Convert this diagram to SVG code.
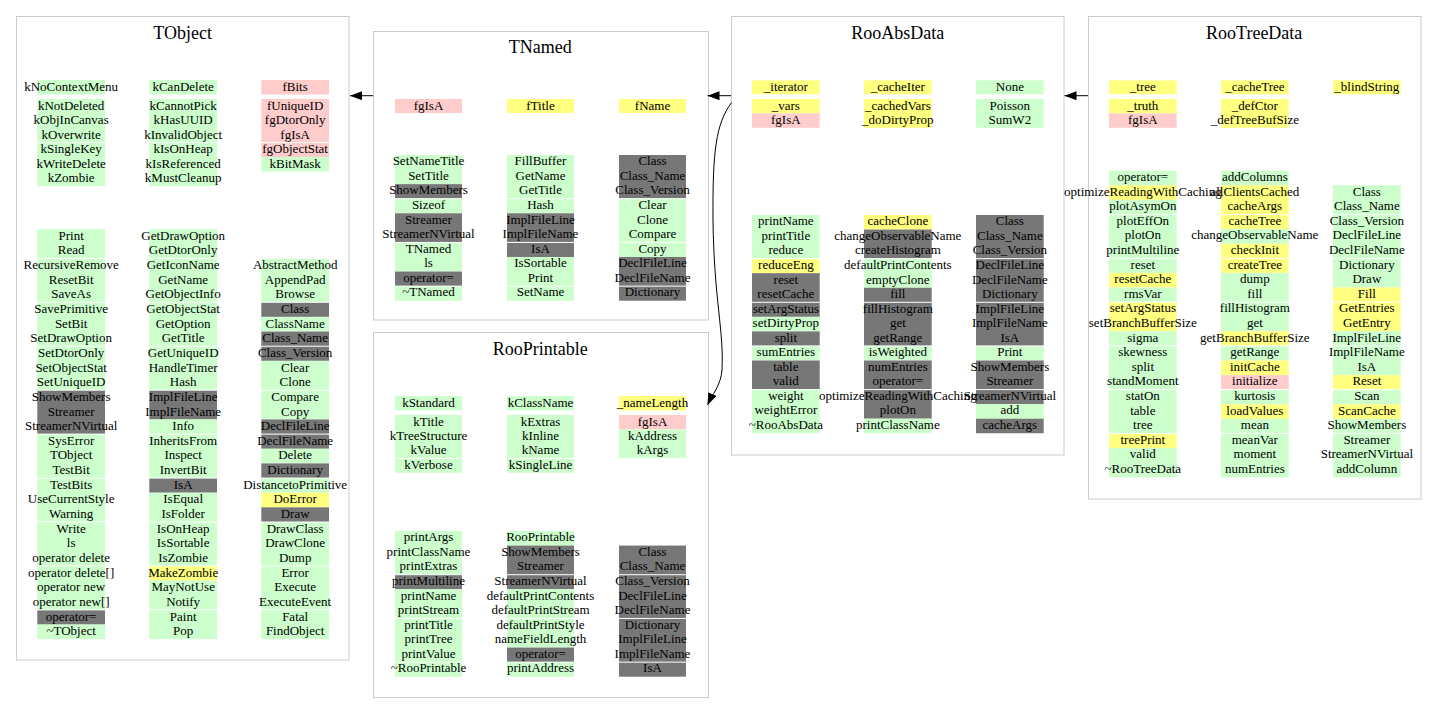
<svg xmlns="http://www.w3.org/2000/svg" width="1437" height="724" viewBox="0 0 1437 724">
<style>
.box{fill:#fff;stroke:#cccccc;stroke-width:1}
.t{font-family:"Liberation Serif","Times New Roman",serif;font-size:13px;text-anchor:middle;fill:#000}
.h{font-family:"Liberation Serif","Times New Roman",serif;font-size:18px;text-anchor:middle;fill:#000}
.g{fill:#ccffcc}.y{fill:#ffff80}.p{fill:#ffcccc}.d{fill:#777777}.w{fill:#ffffff}
.c{fill:none;stroke:#000;stroke-width:1}
</style>
<defs>
<marker id="arr" markerUnits="userSpaceOnUse" markerWidth="14" markerHeight="10" refX="12" refY="4.5" orient="auto">
<path d="M0,0 L12,4.5 L0,9 z" fill="#000"/>
</marker>
</defs>
<rect width="1437" height="724" fill="#fff"/>

<g id="TObject">
<rect class="box" x="16.5" y="16.5" width="332.5" height="643.5"/>
<text class="h" x="182.7" y="39.3">TObject</text>
<rect class="g" x="37.3" y="80" width="67.7" height="14.5"/>
<rect class="g" x="149.3" y="80" width="67.7" height="14.5"/>
<rect class="p" x="261.3" y="80" width="67.7" height="14.5"/>
<rect class="g" x="37.3" y="99" width="67.7" height="87"/>
<rect class="g" x="149.3" y="99" width="67.7" height="87"/>
<rect class="p" x="261.3" y="99" width="67.7" height="58"/>
<rect class="g" x="261.3" y="157" width="67.7" height="14.5"/>
<rect class="w" x="37" y="142" width="293" height="1"/>
<text class="t"><tspan x="71.15" y="91">kNoContextMenu</tspan><tspan x="183.15" y="91">kCanDelete</tspan><tspan x="295.15" y="91">fBits</tspan></text>
<text class="t" x="71.15" y="109.5"><tspan x="71.15" dy="0">kNotDeleted</tspan><tspan x="71.15" dy="14.5">kObjInCanvas</tspan><tspan x="71.15" dy="14.5">kOverwrite</tspan><tspan x="71.15" dy="14.5">kSingleKey</tspan><tspan x="71.15" dy="14.5">kWriteDelete</tspan><tspan x="71.15" dy="14.5">kZombie</tspan></text>
<text class="t" x="183.15" y="109.5"><tspan x="183.15" dy="0">kCannotPick</tspan><tspan x="183.15" dy="14.5">kHasUUID</tspan><tspan x="183.15" dy="14.5">kInvalidObject</tspan><tspan x="183.15" dy="14.5">kIsOnHeap</tspan><tspan x="183.15" dy="14.5">kIsReferenced</tspan><tspan x="183.15" dy="14.5">kMustCleanup</tspan></text>
<text class="t" x="295.15" y="109.5"><tspan x="295.15" dy="0">fUniqueID</tspan><tspan x="295.15" dy="14.5">fgDtorOnly</tspan><tspan x="295.15" dy="14.5">fgIsA</tspan><tspan x="295.15" dy="14.5">fgObjectStat</tspan><tspan x="295.15" dy="14.5">kBitMask</tspan></text>
<rect class="g" x="37.3" y="229" width="67.7" height="161.15"/>
<rect class="d" x="37.3" y="390.15" width="67.7" height="43.95"/>
<rect class="g" x="37.3" y="434.1" width="67.7" height="175.8"/>
<rect class="d" x="37.3" y="609.9" width="67.7" height="14.65"/>
<rect class="g" x="37.3" y="624.55" width="67.7" height="14.65"/>
<rect class="g" x="149.3" y="229" width="67.7" height="161.15"/>
<rect class="d" x="149.3" y="390.15" width="67.7" height="29.3"/>
<rect class="g" x="149.3" y="419.45" width="67.7" height="58.6"/>
<rect class="d" x="149.3" y="478.05" width="67.7" height="14.65"/>
<rect class="g" x="149.3" y="492.7" width="67.7" height="73.25"/>
<rect class="y" x="149.3" y="565.95" width="67.7" height="14.65"/>
<rect class="g" x="149.3" y="580.6" width="67.7" height="58.6"/>
<rect class="g" x="261.3" y="258.3" width="67.7" height="43.95"/>
<rect class="d" x="261.3" y="302.25" width="67.7" height="14.65"/>
<rect class="g" x="261.3" y="316.9" width="67.7" height="14.65"/>
<rect class="d" x="261.3" y="331.55" width="67.7" height="29.3"/>
<rect class="g" x="261.3" y="360.85" width="67.7" height="58.6"/>
<rect class="d" x="261.3" y="419.45" width="67.7" height="29.3"/>
<rect class="g" x="261.3" y="448.75" width="67.7" height="14.65"/>
<rect class="d" x="261.3" y="463.4" width="67.7" height="14.65"/>
<rect class="g" x="261.3" y="478.05" width="67.7" height="14.65"/>
<rect class="y" x="261.3" y="492.7" width="67.7" height="14.65"/>
<rect class="d" x="261.3" y="507.35" width="67.7" height="14.65"/>
<rect class="g" x="261.3" y="522" width="67.7" height="117.2"/>
<rect class="w" x="37" y="257.8" width="293" height="1"/>
<rect class="w" x="37" y="301.75" width="293" height="1"/>
<rect class="w" x="37" y="345.7" width="293" height="1"/>
<rect class="w" x="37" y="389.65" width="293" height="1"/>
<rect class="w" x="37" y="433.6" width="293" height="1"/>
<rect class="w" x="37" y="477.55" width="293" height="1"/>
<rect class="w" x="37" y="521.5" width="293" height="1"/>
<rect class="w" x="37" y="565.45" width="293" height="1"/>
<rect class="w" x="37" y="609.4" width="293" height="1"/>
<text class="t" x="71.15" y="239.7"><tspan x="71.15" dy="0">Print</tspan><tspan x="71.15" dy="14.65">Read</tspan><tspan x="71.15" dy="14.65">RecursiveRemove</tspan><tspan x="71.15" dy="14.65">ResetBit</tspan><tspan x="71.15" dy="14.65">SaveAs</tspan><tspan x="71.15" dy="14.65">SavePrimitive</tspan><tspan x="71.15" dy="14.65">SetBit</tspan><tspan x="71.15" dy="14.65">SetDrawOption</tspan><tspan x="71.15" dy="14.65">SetDtorOnly</tspan><tspan x="71.15" dy="14.65">SetObjectStat</tspan><tspan x="71.15" dy="14.65">SetUniqueID</tspan><tspan x="71.15" dy="14.65">ShowMembers</tspan><tspan x="71.15" dy="14.65">Streamer</tspan><tspan x="71.15" dy="14.65">StreamerNVirtual</tspan><tspan x="71.15" dy="14.65">SysError</tspan><tspan x="71.15" dy="14.65">TObject</tspan><tspan x="71.15" dy="14.65">TestBit</tspan><tspan x="71.15" dy="14.65">TestBits</tspan><tspan x="71.15" dy="14.65">UseCurrentStyle</tspan><tspan x="71.15" dy="14.65">Warning</tspan><tspan x="71.15" dy="14.65">Write</tspan><tspan x="71.15" dy="14.65">ls</tspan><tspan x="71.15" dy="14.65">operator delete</tspan><tspan x="71.15" dy="14.65">operator delete[]</tspan><tspan x="71.15" dy="14.65">operator new</tspan><tspan x="71.15" dy="14.65">operator new[]</tspan><tspan x="71.15" dy="14.65">operator=</tspan><tspan x="71.15" dy="14.65">~TObject</tspan></text>
<text class="t" x="183.15" y="239.7"><tspan x="183.15" dy="0">GetDrawOption</tspan><tspan x="183.15" dy="14.65">GetDtorOnly</tspan><tspan x="183.15" dy="14.65">GetIconName</tspan><tspan x="183.15" dy="14.65">GetName</tspan><tspan x="183.15" dy="14.65">GetObjectInfo</tspan><tspan x="183.15" dy="14.65">GetObjectStat</tspan><tspan x="183.15" dy="14.65">GetOption</tspan><tspan x="183.15" dy="14.65">GetTitle</tspan><tspan x="183.15" dy="14.65">GetUniqueID</tspan><tspan x="183.15" dy="14.65">HandleTimer</tspan><tspan x="183.15" dy="14.65">Hash</tspan><tspan x="183.15" dy="14.65">ImplFileLine</tspan><tspan x="183.15" dy="14.65">ImplFileName</tspan><tspan x="183.15" dy="14.65">Info</tspan><tspan x="183.15" dy="14.65">InheritsFrom</tspan><tspan x="183.15" dy="14.65">Inspect</tspan><tspan x="183.15" dy="14.65">InvertBit</tspan><tspan x="183.15" dy="14.65">IsA</tspan><tspan x="183.15" dy="14.65">IsEqual</tspan><tspan x="183.15" dy="14.65">IsFolder</tspan><tspan x="183.15" dy="14.65">IsOnHeap</tspan><tspan x="183.15" dy="14.65">IsSortable</tspan><tspan x="183.15" dy="14.65">IsZombie</tspan><tspan x="183.15" dy="14.65">MakeZombie</tspan><tspan x="183.15" dy="14.65">MayNotUse</tspan><tspan x="183.15" dy="14.65">Notify</tspan><tspan x="183.15" dy="14.65">Paint</tspan><tspan x="183.15" dy="14.65">Pop</tspan></text>
<text class="t" x="295.15" y="269"><tspan x="295.15" dy="0">AbstractMethod</tspan><tspan x="295.15" dy="14.65">AppendPad</tspan><tspan x="295.15" dy="14.65">Browse</tspan><tspan x="295.15" dy="14.65">Class</tspan><tspan x="295.15" dy="14.65">ClassName</tspan><tspan x="295.15" dy="14.65">Class_Name</tspan><tspan x="295.15" dy="14.65">Class_Version</tspan><tspan x="295.15" dy="14.65">Clear</tspan><tspan x="295.15" dy="14.65">Clone</tspan><tspan x="295.15" dy="14.65">Compare</tspan><tspan x="295.15" dy="14.65">Copy</tspan><tspan x="295.15" dy="14.65">DeclFileLine</tspan><tspan x="295.15" dy="14.65">DeclFileName</tspan><tspan x="295.15" dy="14.65">Delete</tspan><tspan x="295.15" dy="14.65">Dictionary</tspan><tspan x="295.15" dy="14.65">DistancetoPrimitive</tspan><tspan x="295.15" dy="14.65">DoError</tspan><tspan x="295.15" dy="14.65">Draw</tspan><tspan x="295.15" dy="14.65">DrawClass</tspan><tspan x="295.15" dy="14.65">DrawClone</tspan><tspan x="295.15" dy="14.65">Dump</tspan><tspan x="295.15" dy="14.65">Error</tspan><tspan x="295.15" dy="14.65">Execute</tspan><tspan x="295.15" dy="14.65">ExecuteEvent</tspan><tspan x="295.15" dy="14.65">Fatal</tspan><tspan x="295.15" dy="14.65">FindObject</tspan></text>
</g>

<g id="TNamed">
<rect class="box" x="373.5" y="31.5" width="335" height="288.5"/>
<text class="h" x="540.3" y="52.7">TNamed</text>
<rect class="p" x="395" y="99" width="67" height="14"/>
<rect class="y" x="507" y="99" width="67" height="14"/>
<rect class="y" x="619" y="99" width="67" height="14"/>
<text class="t"><tspan x="428.5" y="109.7">fgIsA</tspan><tspan x="540.5" y="109.7">fTitle</tspan><tspan x="652.5" y="109.7">fName</tspan></text>
<rect class="g" x="395" y="155" width="67" height="29.14"/>
<rect class="d" x="395" y="184.14" width="67" height="14.57"/>
<rect class="g" x="395" y="198.71" width="67" height="14.57"/>
<rect class="d" x="395" y="213.28" width="67" height="29.14"/>
<rect class="g" x="395" y="242.42" width="67" height="29.14"/>
<rect class="d" x="395" y="271.56" width="67" height="14.57"/>
<rect class="g" x="395" y="286.13" width="67" height="14.57"/>
<rect class="g" x="507" y="155" width="67" height="58.28"/>
<rect class="d" x="507" y="213.28" width="67" height="43.71"/>
<rect class="g" x="507" y="256.99" width="67" height="43.71"/>
<rect class="d" x="619" y="155" width="67" height="43.71"/>
<rect class="g" x="619" y="198.71" width="67" height="58.28"/>
<rect class="d" x="619" y="256.99" width="67" height="43.71"/>
<rect class="w" x="394" y="198.21" width="293" height="1"/>
<rect class="w" x="394" y="241.92" width="293" height="1"/>
<rect class="w" x="394" y="285.63" width="293" height="1"/>
<text class="t" x="428.5" y="165.3"><tspan x="428.5" dy="0">SetNameTitle</tspan><tspan x="428.5" dy="14.57">SetTitle</tspan><tspan x="428.5" dy="14.57">ShowMembers</tspan><tspan x="428.5" dy="14.57">Sizeof</tspan><tspan x="428.5" dy="14.57">Streamer</tspan><tspan x="428.5" dy="14.57">StreamerNVirtual</tspan><tspan x="428.5" dy="14.57">TNamed</tspan><tspan x="428.5" dy="14.57">ls</tspan><tspan x="428.5" dy="14.57">operator=</tspan><tspan x="428.5" dy="14.57">~TNamed</tspan></text>
<text class="t" x="540.5" y="165.3"><tspan x="540.5" dy="0">FillBuffer</tspan><tspan x="540.5" dy="14.57">GetName</tspan><tspan x="540.5" dy="14.57">GetTitle</tspan><tspan x="540.5" dy="14.57">Hash</tspan><tspan x="540.5" dy="14.57">ImplFileLine</tspan><tspan x="540.5" dy="14.57">ImplFileName</tspan><tspan x="540.5" dy="14.57">IsA</tspan><tspan x="540.5" dy="14.57">IsSortable</tspan><tspan x="540.5" dy="14.57">Print</tspan><tspan x="540.5" dy="14.57">SetName</tspan></text>
<text class="t" x="652.5" y="165.3"><tspan x="652.5" dy="0">Class</tspan><tspan x="652.5" dy="14.57">Class_Name</tspan><tspan x="652.5" dy="14.57">Class_Version</tspan><tspan x="652.5" dy="14.57">Clear</tspan><tspan x="652.5" dy="14.57">Clone</tspan><tspan x="652.5" dy="14.57">Compare</tspan><tspan x="652.5" dy="14.57">Copy</tspan><tspan x="652.5" dy="14.57">DeclFileLine</tspan><tspan x="652.5" dy="14.57">DeclFileName</tspan><tspan x="652.5" dy="14.57">Dictionary</tspan></text>
</g>

<g id="RooPrintable">
<rect class="box" x="373.5" y="332.5" width="335" height="365"/>
<text class="h" x="540.3" y="355">RooPrintable</text>
<rect class="g" x="395" y="396" width="67" height="14.5"/>
<rect class="g" x="507" y="396" width="67" height="14.5"/>
<rect class="y" x="619" y="396" width="67" height="14.5"/>
<text class="t"><tspan x="428.5" y="407">kStandard</tspan><tspan x="540.5" y="407">kClassName</tspan><tspan x="652.5" y="407">_nameLength</tspan></text>
<rect class="g" x="395" y="415" width="67" height="57.8"/>
<rect class="g" x="507" y="415" width="67" height="57.8"/>
<rect class="p" x="619" y="415" width="67" height="14.45"/>
<rect class="g" x="619" y="429.45" width="67" height="28.9"/>
<rect class="w" x="394" y="457.85" width="293" height="1"/>
<text class="t" x="428.5" y="425.5"><tspan x="428.5" dy="0">kTitle</tspan><tspan x="428.5" dy="14.45">kTreeStructure</tspan><tspan x="428.5" dy="14.45">kValue</tspan><tspan x="428.5" dy="14.45">kVerbose</tspan></text>
<text class="t" x="540.5" y="425.5"><tspan x="540.5" dy="0">kExtras</tspan><tspan x="540.5" dy="14.45">kInline</tspan><tspan x="540.5" dy="14.45">kName</tspan><tspan x="540.5" dy="14.45">kSingleLine</tspan></text>
<text class="t" x="652.5" y="425.5"><tspan x="652.5" dy="0">fgIsA</tspan><tspan x="652.5" dy="14.45">kAddress</tspan><tspan x="652.5" dy="14.45">kArgs</tspan></text>
<rect class="g" x="395" y="531" width="67" height="43.71"/>
<rect class="d" x="395" y="574.71" width="67" height="14.57"/>
<rect class="g" x="395" y="589.28" width="67" height="87.42"/>
<rect class="g" x="507" y="531" width="67" height="14.57"/>
<rect class="d" x="507" y="545.57" width="67" height="43.71"/>
<rect class="g" x="507" y="589.28" width="67" height="58.28"/>
<rect class="d" x="507" y="647.56" width="67" height="14.57"/>
<rect class="g" x="507" y="662.13" width="67" height="14.57"/>
<rect class="d" x="619" y="545.57" width="67" height="131.13"/>
<rect class="w" x="394" y="574.21" width="293" height="1"/>
<rect class="w" x="394" y="617.92" width="293" height="1"/>
<rect class="w" x="394" y="661.63" width="293" height="1"/>
<text class="t" x="428.5" y="541.3"><tspan x="428.5" dy="0">printArgs</tspan><tspan x="428.5" dy="14.57">printClassName</tspan><tspan x="428.5" dy="14.57">printExtras</tspan><tspan x="428.5" dy="14.57">printMultiline</tspan><tspan x="428.5" dy="14.57">printName</tspan><tspan x="428.5" dy="14.57">printStream</tspan><tspan x="428.5" dy="14.57">printTitle</tspan><tspan x="428.5" dy="14.57">printTree</tspan><tspan x="428.5" dy="14.57">printValue</tspan><tspan x="428.5" dy="14.57">~RooPrintable</tspan></text>
<text class="t" x="540.5" y="541.3"><tspan x="540.5" dy="0">RooPrintable</tspan><tspan x="540.5" dy="14.57">ShowMembers</tspan><tspan x="540.5" dy="14.57">Streamer</tspan><tspan x="540.5" dy="14.57">StreamerNVirtual</tspan><tspan x="540.5" dy="14.57">defaultPrintContents</tspan><tspan x="540.5" dy="14.57">defaultPrintStream</tspan><tspan x="540.5" dy="14.57">defaultPrintStyle</tspan><tspan x="540.5" dy="14.57">nameFieldLength</tspan><tspan x="540.5" dy="14.57">operator=</tspan><tspan x="540.5" dy="14.57">printAddress</tspan></text>
<text class="t" x="652.5" y="555.87"><tspan x="652.5" dy="0">Class</tspan><tspan x="652.5" dy="14.57">Class_Name</tspan><tspan x="652.5" dy="14.57">Class_Version</tspan><tspan x="652.5" dy="14.57">DeclFileLine</tspan><tspan x="652.5" dy="14.57">DeclFileName</tspan><tspan x="652.5" dy="14.57">Dictionary</tspan><tspan x="652.5" dy="14.57">ImplFileLine</tspan><tspan x="652.5" dy="14.57">ImplFileName</tspan><tspan x="652.5" dy="14.57">IsA</tspan></text>
</g>

<g id="RooAbsData">
<rect class="box" x="731.5" y="16.5" width="332.5" height="438.5"/>
<text class="h" x="897.7" y="39">RooAbsData</text>
<rect class="y" x="752" y="80.3" width="67.7" height="14"/>
<rect class="y" x="864" y="80.3" width="67.7" height="14"/>
<rect class="g" x="976" y="80.3" width="67.7" height="14"/>
<text class="t"><tspan x="785.85" y="91">_iterator</tspan><tspan x="897.85" y="91">_cacheIter</tspan><tspan x="1009.85" y="91">None</tspan></text>
<rect class="y" x="752" y="99" width="67.7" height="14.4"/>
<rect class="p" x="752" y="113.4" width="67.7" height="14.4"/>
<rect class="y" x="864" y="99" width="67.7" height="28.8"/>
<rect class="g" x="976" y="99" width="67.7" height="28.8"/>
<text class="t" x="785.85" y="109.5"><tspan x="785.85" dy="0">_vars</tspan><tspan x="785.85" dy="14.4">fgIsA</tspan></text>
<text class="t" x="897.85" y="109.5"><tspan x="897.85" dy="0">_cachedVars</tspan><tspan x="897.85" dy="14.4">_doDirtyProp</tspan></text>
<text class="t" x="1009.85" y="109.5"><tspan x="1009.85" dy="0">Poisson</tspan><tspan x="1009.85" dy="14.4">SumW2</tspan></text>
<rect class="g" x="752" y="215" width="67.7" height="43.65"/>
<rect class="y" x="752" y="258.65" width="67.7" height="14.55"/>
<rect class="d" x="752" y="273.2" width="67.7" height="43.65"/>
<rect class="g" x="752" y="316.85" width="67.7" height="14.55"/>
<rect class="d" x="752" y="331.4" width="67.7" height="14.55"/>
<rect class="g" x="752" y="345.95" width="67.7" height="14.55"/>
<rect class="d" x="752" y="360.5" width="67.7" height="29.1"/>
<rect class="g" x="752" y="389.6" width="67.7" height="43.65"/>
<rect class="y" x="864" y="215" width="67.7" height="14.55"/>
<rect class="d" x="864" y="229.55" width="67.7" height="29.1"/>
<rect class="g" x="864" y="258.65" width="67.7" height="29.1"/>
<rect class="d" x="864" y="287.75" width="67.7" height="58.2"/>
<rect class="g" x="864" y="345.95" width="67.7" height="14.55"/>
<rect class="d" x="864" y="360.5" width="67.7" height="58.2"/>
<rect class="g" x="864" y="418.7" width="67.7" height="14.55"/>
<rect class="d" x="976" y="215" width="67.7" height="130.95"/>
<rect class="g" x="976" y="345.95" width="67.7" height="14.55"/>
<rect class="d" x="976" y="360.5" width="67.7" height="43.65"/>
<rect class="g" x="976" y="404.15" width="67.7" height="14.55"/>
<rect class="d" x="976" y="418.7" width="67.7" height="14.55"/>
<rect class="w" x="751" y="258.15" width="294" height="1"/>
<rect class="w" x="751" y="301.8" width="294" height="1"/>
<rect class="w" x="751" y="345.45" width="294" height="1"/>
<rect class="w" x="751" y="389.1" width="294" height="1"/>
<text class="t" x="785.85" y="225.3"><tspan x="785.85" dy="0">printName</tspan><tspan x="785.85" dy="14.55">printTitle</tspan><tspan x="785.85" dy="14.55">reduce</tspan><tspan x="785.85" dy="14.55">reduceEng</tspan><tspan x="785.85" dy="14.55">reset</tspan><tspan x="785.85" dy="14.55">resetCache</tspan><tspan x="785.85" dy="14.55">setArgStatus</tspan><tspan x="785.85" dy="14.55">setDirtyProp</tspan><tspan x="785.85" dy="14.55">split</tspan><tspan x="785.85" dy="14.55">sumEntries</tspan><tspan x="785.85" dy="14.55">table</tspan><tspan x="785.85" dy="14.55">valid</tspan><tspan x="785.85" dy="14.55">weight</tspan><tspan x="785.85" dy="14.55">weightError</tspan><tspan x="785.85" dy="14.55">~RooAbsData</tspan></text>
<text class="t" x="897.85" y="225.3"><tspan x="897.85" dy="0">cacheClone</tspan><tspan x="897.85" dy="14.55">changeObservableName</tspan><tspan x="897.85" dy="14.55">createHistogram</tspan><tspan x="897.85" dy="14.55">defaultPrintContents</tspan><tspan x="897.85" dy="14.55">emptyClone</tspan><tspan x="897.85" dy="14.55">fill</tspan><tspan x="897.85" dy="14.55">fillHistogram</tspan><tspan x="897.85" dy="14.55">get</tspan><tspan x="897.85" dy="14.55">getRange</tspan><tspan x="897.85" dy="14.55">isWeighted</tspan><tspan x="897.85" dy="14.55">numEntries</tspan><tspan x="897.85" dy="14.55">operator=</tspan><tspan x="897.85" dy="14.55">optimizeReadingWithCaching</tspan><tspan x="897.85" dy="14.55">plotOn</tspan><tspan x="897.85" dy="14.55">printClassName</tspan></text>
<text class="t" x="1009.85" y="225.3"><tspan x="1009.85" dy="0">Class</tspan><tspan x="1009.85" dy="14.55">Class_Name</tspan><tspan x="1009.85" dy="14.55">Class_Version</tspan><tspan x="1009.85" dy="14.55">DeclFileLine</tspan><tspan x="1009.85" dy="14.55">DeclFileName</tspan><tspan x="1009.85" dy="14.55">Dictionary</tspan><tspan x="1009.85" dy="14.55">ImplFileLine</tspan><tspan x="1009.85" dy="14.55">ImplFileName</tspan><tspan x="1009.85" dy="14.55">IsA</tspan><tspan x="1009.85" dy="14.55">Print</tspan><tspan x="1009.85" dy="14.55">ShowMembers</tspan><tspan x="1009.85" dy="14.55">Streamer</tspan><tspan x="1009.85" dy="14.55">StreamerNVirtual</tspan><tspan x="1009.85" dy="14.55">add</tspan><tspan x="1009.85" dy="14.55">cacheArgs</tspan></text>
</g>

<g id="RooTreeData">
<rect class="box" x="1088.5" y="16.5" width="332.5" height="482.5"/>
<text class="h" x="1254.2" y="39">RooTreeData</text>
<rect class="y" x="1109" y="80.3" width="67.7" height="14"/>
<rect class="y" x="1221" y="80.3" width="67.7" height="14"/>
<rect class="y" x="1333" y="80.3" width="67.7" height="14"/>
<text class="t"><tspan x="1142.85" y="91">_tree</tspan><tspan x="1254.85" y="91">_cacheTree</tspan><tspan x="1366.85" y="91">_blindString</tspan></text>
<rect class="y" x="1109" y="99" width="67.7" height="14.4"/>
<rect class="p" x="1109" y="113.4" width="67.7" height="14.4"/>
<rect class="y" x="1221" y="99" width="67.7" height="28.8"/>
<text class="t" x="1142.85" y="109.5"><tspan x="1142.85" dy="0">_truth</tspan><tspan x="1142.85" dy="14.4">fgIsA</tspan></text>
<text class="t" x="1254.85" y="109.5"><tspan x="1254.85" dy="0">_defCtor</tspan><tspan x="1254.85" dy="14.4">_defTreeBufSize</tspan></text>
<rect class="g" x="1109" y="170.7" width="67.7" height="14.6"/>
<rect class="y" x="1109" y="185.3" width="67.7" height="14.6"/>
<rect class="g" x="1109" y="199.9" width="67.7" height="73"/>
<rect class="y" x="1109" y="272.9" width="67.7" height="14.6"/>
<rect class="g" x="1109" y="287.5" width="67.7" height="14.6"/>
<rect class="y" x="1109" y="302.1" width="67.7" height="29.2"/>
<rect class="g" x="1109" y="331.3" width="67.7" height="102.2"/>
<rect class="y" x="1109" y="433.5" width="67.7" height="14.6"/>
<rect class="g" x="1109" y="448.1" width="67.7" height="29.2"/>
<rect class="g" x="1221" y="170.7" width="67.7" height="14.6"/>
<rect class="y" x="1221" y="185.3" width="67.7" height="43.8"/>
<rect class="g" x="1221" y="229.1" width="67.7" height="14.6"/>
<rect class="y" x="1221" y="243.7" width="67.7" height="29.2"/>
<rect class="g" x="1221" y="272.9" width="67.7" height="58.4"/>
<rect class="y" x="1221" y="331.3" width="67.7" height="14.6"/>
<rect class="g" x="1221" y="345.9" width="67.7" height="14.6"/>
<rect class="y" x="1221" y="360.5" width="67.7" height="14.6"/>
<rect class="p" x="1221" y="375.1" width="67.7" height="14.6"/>
<rect class="g" x="1221" y="389.7" width="67.7" height="14.6"/>
<rect class="y" x="1221" y="404.3" width="67.7" height="14.6"/>
<rect class="g" x="1221" y="418.9" width="67.7" height="58.4"/>
<rect class="g" x="1333" y="185.3" width="67.7" height="102.2"/>
<rect class="y" x="1333" y="287.5" width="67.7" height="43.8"/>
<rect class="g" x="1333" y="331.3" width="67.7" height="43.8"/>
<rect class="y" x="1333" y="375.1" width="67.7" height="14.6"/>
<rect class="g" x="1333" y="389.7" width="67.7" height="14.6"/>
<rect class="y" x="1333" y="404.3" width="67.7" height="14.6"/>
<rect class="g" x="1333" y="418.9" width="67.7" height="58.4"/>
<rect class="w" x="1108" y="214" width="294" height="1"/>
<rect class="w" x="1108" y="257.8" width="294" height="1"/>
<rect class="w" x="1108" y="301.6" width="294" height="1"/>
<rect class="w" x="1108" y="345.4" width="294" height="1"/>
<rect class="w" x="1108" y="389.2" width="294" height="1"/>
<rect class="w" x="1108" y="433" width="294" height="1"/>
<text class="t" x="1142.85" y="181"><tspan x="1142.85" dy="0">operator=</tspan><tspan x="1142.85" dy="14.6">optimizeReadingWithCaching</tspan><tspan x="1142.85" dy="14.6">plotAsymOn</tspan><tspan x="1142.85" dy="14.6">plotEffOn</tspan><tspan x="1142.85" dy="14.6">plotOn</tspan><tspan x="1142.85" dy="14.6">printMultiline</tspan><tspan x="1142.85" dy="14.6">reset</tspan><tspan x="1142.85" dy="14.6">resetCache</tspan><tspan x="1142.85" dy="14.6">rmsVar</tspan><tspan x="1142.85" dy="14.6">setArgStatus</tspan><tspan x="1142.85" dy="14.6">setBranchBufferSize</tspan><tspan x="1142.85" dy="14.6">sigma</tspan><tspan x="1142.85" dy="14.6">skewness</tspan><tspan x="1142.85" dy="14.6">split</tspan><tspan x="1142.85" dy="14.6">standMoment</tspan><tspan x="1142.85" dy="14.6">statOn</tspan><tspan x="1142.85" dy="14.6">table</tspan><tspan x="1142.85" dy="14.6">tree</tspan><tspan x="1142.85" dy="14.6">treePrint</tspan><tspan x="1142.85" dy="14.6">valid</tspan><tspan x="1142.85" dy="14.6">~RooTreeData</tspan></text>
<text class="t" x="1254.85" y="181"><tspan x="1254.85" dy="0">addColumns</tspan><tspan x="1254.85" dy="14.6">allClientsCached</tspan><tspan x="1254.85" dy="14.6">cacheArgs</tspan><tspan x="1254.85" dy="14.6">cacheTree</tspan><tspan x="1254.85" dy="14.6">changeObservableName</tspan><tspan x="1254.85" dy="14.6">checkInit</tspan><tspan x="1254.85" dy="14.6">createTree</tspan><tspan x="1254.85" dy="14.6">dump</tspan><tspan x="1254.85" dy="14.6">fill</tspan><tspan x="1254.85" dy="14.6">fillHistogram</tspan><tspan x="1254.85" dy="14.6">get</tspan><tspan x="1254.85" dy="14.6">getBranchBufferSize</tspan><tspan x="1254.85" dy="14.6">getRange</tspan><tspan x="1254.85" dy="14.6">initCache</tspan><tspan x="1254.85" dy="14.6">initialize</tspan><tspan x="1254.85" dy="14.6">kurtosis</tspan><tspan x="1254.85" dy="14.6">loadValues</tspan><tspan x="1254.85" dy="14.6">mean</tspan><tspan x="1254.85" dy="14.6">meanVar</tspan><tspan x="1254.85" dy="14.6">moment</tspan><tspan x="1254.85" dy="14.6">numEntries</tspan></text>
<text class="t" x="1366.85" y="195.6"><tspan x="1366.85" dy="0">Class</tspan><tspan x="1366.85" dy="14.6">Class_Name</tspan><tspan x="1366.85" dy="14.6">Class_Version</tspan><tspan x="1366.85" dy="14.6">DeclFileLine</tspan><tspan x="1366.85" dy="14.6">DeclFileName</tspan><tspan x="1366.85" dy="14.6">Dictionary</tspan><tspan x="1366.85" dy="14.6">Draw</tspan><tspan x="1366.85" dy="14.6">Fill</tspan><tspan x="1366.85" dy="14.6">GetEntries</tspan><tspan x="1366.85" dy="14.6">GetEntry</tspan><tspan x="1366.85" dy="14.6">ImplFileLine</tspan><tspan x="1366.85" dy="14.6">ImplFileName</tspan><tspan x="1366.85" dy="14.6">IsA</tspan><tspan x="1366.85" dy="14.6">Reset</tspan><tspan x="1366.85" dy="14.6">Scan</tspan><tspan x="1366.85" dy="14.6">ScanCache</tspan><tspan x="1366.85" dy="14.6">ShowMembers</tspan><tspan x="1366.85" dy="14.6">Streamer</tspan><tspan x="1366.85" dy="14.6">StreamerNVirtual</tspan><tspan x="1366.85" dy="14.6">addColumn</tspan></text>
</g>

<g id="connectors">
<path class="c" d="M373,95.7 L350,95.7" marker-end="url(#arr)"/>
<path class="c" d="M731,95.7 L707.5,95.7" marker-end="url(#arr)"/>
<path class="c" d="M1088,95.7 L1064.5,95.7" marker-end="url(#arr)"/>
<path class="c" d="M731.5,102.5 C716,124 712.5,150 713,220 C714,300 724,330 722,370 C721,385 712,395 707.5,405" marker-end="url(#arr)"/>
</g>
</svg>
